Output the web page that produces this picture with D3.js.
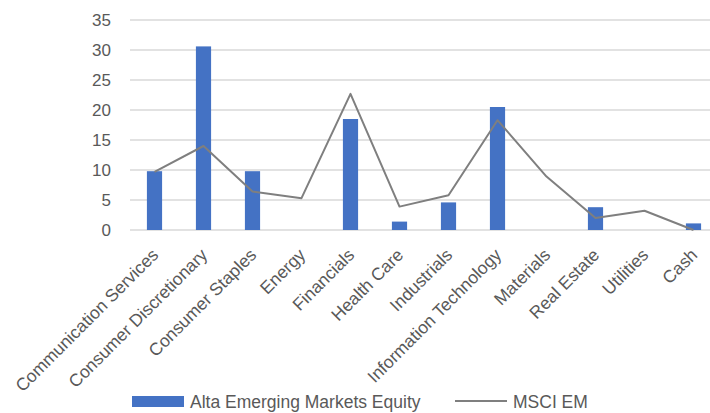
<!DOCTYPE html>
<html>
<head>
<meta charset="utf-8">
<script src="https://cdn.jsdelivr.net/npm/d3@7"></script>
<style>
  body { margin: 0; background: #fff; }
  svg { display: block; font-family: "Liberation Sans", Arial, sans-serif; }
</style>
</head>
<body>
<svg id="chart" width="710" height="413"></svg>
<script>
// sector weights (%)
var sectors = ["Communication Services", "Consumer Discretionary", "Consumer Staples", "Energy",
  "Financials", "Health Care", "Industrials", "Information Technology", "Materials",
  "Real Estate", "Utilities", "Cash"];
var altaValues = [9.8, 30.6, 9.8, 0, 18.5, 1.4, 4.6, 20.5, 0, 3.8, 0, 1.1];
var msciValues = [9.7, 14.0, 6.4, 5.3, 22.7, 3.9, 5.8, 18.3, 8.9, 2.0, 3.2, 0];
var yTicks = [0, 5, 10, 15, 20, 25, 30, 35];
var seriesNames = ["Alta Emerging Markets Equity", "MSCI EM"];

var svg = d3.select("#chart");

var x = d3.scaleBand()
  .domain(sectors)
  .range([130, 718])
  .paddingInner(0.69)
  .paddingOuter(0.345);

var y = d3.scaleLinear()
  .domain([0, 35])
  .range([230, 20]);

// gridlines
svg.append("g")
  .selectAll("line")
  .data(yTicks)
  .join("line")
  .attr("x1", 130)
  .attr("x2", 718)
  .attr("y1", function (d) { return y(d); })
  .attr("y2", function (d) { return y(d); })
  .attr("stroke", "#d9d9d9")
  .attr("stroke-width", 1.5);

// y axis labels
var yAxis = svg.append("g")
  .attr("transform", "translate(120,0)")
  .call(d3.axisLeft(y).tickValues(yTicks).tickSize(0).tickPadding(0));
yAxis.select(".domain").remove();
yAxis.selectAll("text")
  .attr("x", -9)
  .attr("fill", "#595959")
  .style("font-size", "17px")
  .style("font-family", "'Liberation Sans', Arial, sans-serif");

// bars
svg.append("g")
  .selectAll("rect")
  .data(altaValues)
  .join("rect")
  .attr("x", function (d, i) { return x(sectors[i]); })
  .attr("y", function (d) { return y(d); })
  .attr("width", x.bandwidth())
  .attr("height", function (d) { return y(0) - y(d); })
  .attr("fill", "#4472c4");

// MSCI EM line
var line = d3.line()
  .x(function (d, i) { return x(sectors[i]) + x.bandwidth() / 2; })
  .y(function (d) { return y(d); });

svg.append("path")
  .datum(msciValues)
  .attr("d", line)
  .attr("fill", "none")
  .attr("stroke", "#7f7f7f")
  .attr("stroke-width", 2)
  .attr("stroke-linejoin", "round");

// x axis category labels, rotated
var xAxis = svg.append("g")
  .attr("transform", "translate(0,230)")
  .call(d3.axisBottom(x).tickSize(0).tickPadding(0));
xAxis.select(".domain").remove();
xAxis.selectAll(".tick text")
  .attr("fill", "#595959")
  .style("font-size", "17.5px")
  .style("font-family", "'Liberation Sans', Arial, sans-serif")
  .attr("text-anchor", "end")
  .attr("dy", null)
  .attr("y", 0)
  .attr("transform", "translate(5,26) rotate(-45)");

// legend
var legend = svg.append("g");
legend.append("rect")
  .attr("x", 132)
  .attr("y", 396)
  .attr("width", 52)
  .attr("height", 11)
  .attr("fill", "#4472c4");
legend.append("text")
  .attr("x", 190)
  .attr("y", 408)
  .attr("fill", "#595959")
  .style("font-size", "17.5px")
  .text(seriesNames[0]);
legend.append("line")
  .attr("x1", 455)
  .attr("x2", 507)
  .attr("y1", 401)
  .attr("y2", 401)
  .attr("stroke", "#7f7f7f")
  .attr("stroke-width", 2);
legend.append("text")
  .attr("x", 513)
  .attr("y", 408)
  .attr("fill", "#595959")
  .style("font-size", "17.5px")
  .text(seriesNames[1]);
</script>
</body>
</html>
